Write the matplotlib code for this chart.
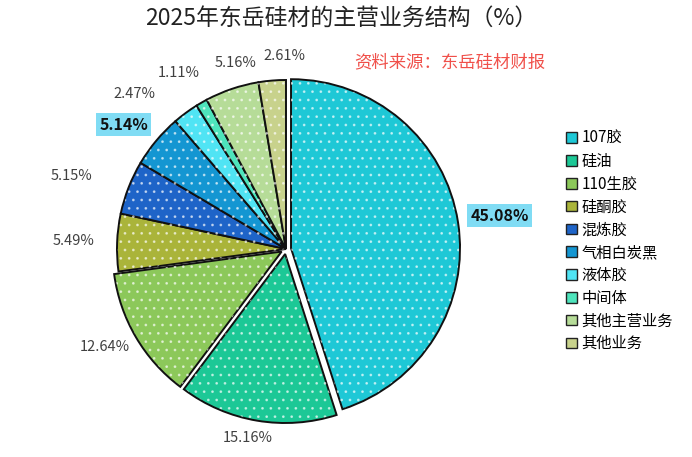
import numpy as np
import matplotlib
matplotlib.use("Agg")
import matplotlib.pyplot as plt
from matplotlib.patches import Wedge, Patch

plt.rcParams['font.family'] = ['Noto Sans CJK SC', 'DejaVu Sans']
plt.rcParams['hatch.linewidth'] = 0.8

# data
categories = ['107胶', '硅油', '110生胶', '硅酮胶', '混炼胶', '气相白炭黑',
              '液体胶', '中间体', '其他主营业务', '其他业务']
shares = [45.08, 15.16, 12.64, 5.49, 5.15, 5.14, 2.47, 1.11, 5.16, 2.61]
labels = ['45.08%', '15.16%', '12.64%', '5.49%', '5.15%', '5.14%',
          '2.47%', '1.11%', '5.16%', '2.61%']

colors = ['#1EC8D6', '#1CC896', '#8CC85A', '#AAB43A', '#1E64C8', '#1496D2',
          '#50E4F4', '#4EE4BC', '#B6DC98', '#C8D28C']
explode = [0.03, 0.03, 0.03, 0, 0, 0, 0, 0, 0, 0]
# label placement (radius in pie units, angular nudge in degrees)
lab_r = [1.28, 1.14, 1.22, 1.26, 1.34, 1.21, 1.28, 1.22, 1.14, 1.14]
lab_shift = [0, -2, -2, 0, 2.6, 2.4, 8, 1.4, -3.4, -4.3]
highlight = [True, False, False, False, False, True, False, False, False, False]

W, H = 692, 457
cx, cy, R = 286, 249, 169

fig = plt.figure(figsize=(W / 100, H / 100), dpi=100)
ax = fig.add_axes([0, 0, 1, 1])

wedges, _ = ax.pie(shares, colors=colors, explode=explode, startangle=90,
                   counterclock=False, radius=1,
                   wedgeprops=dict(edgecolor='#111111', linewidth=1.4))

# faint dotted texture on top of each slice
for w in wedges:
    ov = Wedge(w.center, w.r * 0.995, w.theta1, w.theta2, facecolor='none',
               edgecolor=(1, 1, 1, 0.55), linewidth=0, hatch='..')
    ax.add_patch(ov)

for w, lab, r, sh, hl in zip(wedges, labels, lab_r, lab_shift, highlight):
    ang = np.deg2rad((w.theta1 + w.theta2) / 2 + sh)
    x, y = r * np.cos(ang), r * np.sin(ang)
    if hl:
        ax.text(x, y, lab, ha='center', va='center', fontsize=11.5,
                fontweight='bold', color='#111111',
                bbox=dict(boxstyle='square,pad=0.2', facecolor='#80DCF4',
                          edgecolor='none'))
    else:
        ax.text(x, y, lab, ha='center', va='center', fontsize=10.5,
                color='#404040')

ax.set_xlim(-cx / R, (W - cx) / R)
ax.set_ylim(-(H - cy) / R, cy / R)
ax.set_aspect('auto')
ax.axis('off')

fig.text(341 / W, 1 - 18 / H, '2025年东岳硅材的主营业务结构（%）',
         ha='center', va='center', fontsize=16.5, color='#222222')
fig.text(354 / W, 1 - 62 / H, '资料来源：东岳硅材财报',
         ha='left', va='center', fontsize=12.5, color='#F0504A')

handles = [Patch(facecolor=c, edgecolor='#222222', linewidth=1) for c in colors]
fig.legend(handles, categories, loc='upper left',
           bbox_to_anchor=(566 / W, 1 - 130 / H), frameon=False,
           fontsize=11, handlelength=0.7, handleheight=0.7,
           handletextpad=0.3, labelspacing=0.38, borderpad=0,
           borderaxespad=0)

fig.savefig('out.png', dpi=100)
